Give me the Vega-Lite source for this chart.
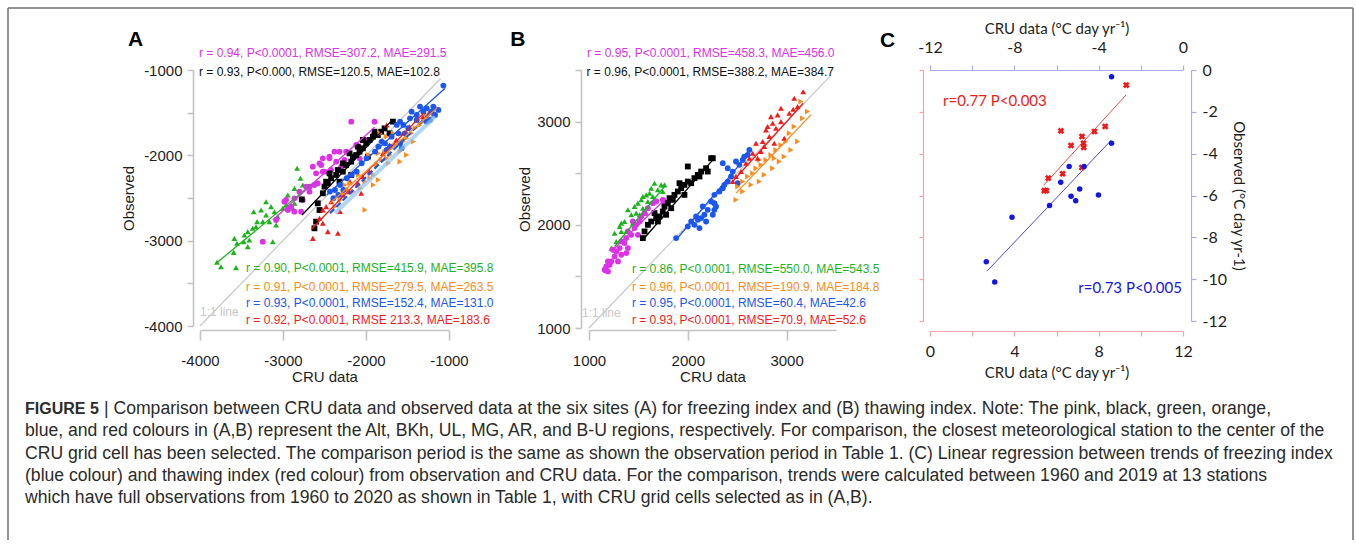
{
  "$schema": "https://vega.github.io/schema/vega-lite/v6.json",
  "padding": {"left": 7, "top": 7, "right": 0, "bottom": 0},
  "background": "white",
  "config": {
    "view": {"stroke": null},
    "font": "Liberation Sans",
    "axis": {"domainColor": "#c4c4c4", "tickColor": "#c4c4c4", "domainWidth": 1.6, "tickWidth": 1.6, "grid": false, "labelFontSize": 15, "labelColor": "#1e1e1e", "titleFontSize": 15, "titleFontWeight": "normal", "titleColor": "#1e1e1e", "labelFlush": false, "labelOverlap": false, "labelBound": false, "labelFont": "Liberation Sans", "titleFont": "Liberation Sans"}
  },
  "datasets": {
    "one": [{}],
    "fi": [
      {"g":"UL","cru":-3795,"obs":-3254},{"g":"UL","cru":-3747,"obs":-3305},{"g":"UL","cru":-3566,"obs":-3316},{"g":"UL","cru":-3594,"obs":-3137},{"g":"UL","cru":-3554,"obs":-3031},{"g":"UL","cru":-3586,"obs":-2973},{"g":"UL","cru":-3465,"obs":-2933},{"g":"UL","cru":-3425,"obs":-2894},{"g":"UL","cru":-3473,"obs":-3012},{"g":"UL","cru":-3405,"obs":-2992},{"g":"UL","cru":-3365,"obs":-2855},{"g":"UL","cru":-3325,"obs":-2836},{"g":"UL","cru":-3312,"obs":-2777},{"g":"UL","cru":-3353,"obs":-2660},{"g":"UL","cru":-3264,"obs":-2641},{"g":"UL","cru":-3244,"obs":-2777},{"g":"UL","cru":-3204,"obs":-2699},{"g":"UL","cru":-3164,"obs":-2777},{"g":"UL","cru":-3103,"obs":-2660},{"g":"UL","cru":-3144,"obs":-2601},{"g":"UL","cru":-3083,"obs":-2816},{"g":"UL","cru":-3063,"obs":-2719},{"g":"UL","cru":-3003,"obs":-2621},{"g":"UL","cru":-2963,"obs":-2582},{"g":"UL","cru":-2942,"obs":-2465},{"g":"UL","cru":-2862,"obs":-2387},{"g":"UL","cru":-2830,"obs":-2152},{"g":"UL","cru":-2790,"obs":-2269},{"g":"UL","cru":-2761,"obs":-2348},{"g":"UL","cru":-2862,"obs":-2562},{"g":"UL","cru":-2882,"obs":-2621},{"g":"UL","cru":-2983,"obs":-2523},{"g":"UL","cru":-3123,"obs":-3012},{"g":"UL","cru":-3425,"obs":-3070},{"g":"UL","cru":-3204,"obs":-2543},
      {"g":"Alt","cru":-3244,"obs":-3012},{"g":"Alt","cru":-3083,"obs":-2758},{"g":"Alt","cru":-2983,"obs":-2543},{"g":"Alt","cru":-2963,"obs":-2523},{"g":"Alt","cru":-2942,"obs":-2641},{"g":"Alt","cru":-2902,"obs":-2601},{"g":"Alt","cru":-2862,"obs":-2504},{"g":"Alt","cru":-2862,"obs":-2660},{"g":"Alt","cru":-2802,"obs":-2426},{"g":"Alt","cru":-2782,"obs":-2660},{"g":"Alt","cru":-2762,"obs":-2523},{"g":"Alt","cru":-2681,"obs":-2426},{"g":"Alt","cru":-2621,"obs":-2348},{"g":"Alt","cru":-2641,"obs":-2133},{"g":"Alt","cru":-2601,"obs":-2211},{"g":"Alt","cru":-2540,"obs":-2113},{"g":"Alt","cru":-2520,"obs":-2191},{"g":"Alt","cru":-2520,"obs":-2035},{"g":"Alt","cru":-2560,"obs":-2094},{"g":"Alt","cru":-2500,"obs":-2191},{"g":"Alt","cru":-2440,"obs":-2035},{"g":"Alt","cru":-2420,"obs":-2172},{"g":"Alt","cru":-2380,"obs":-1957},{"g":"Alt","cru":-2359,"obs":-2074},{"g":"Alt","cru":-2319,"obs":-1957},{"g":"Alt","cru":-2259,"obs":-2055},{"g":"Alt","cru":-2239,"obs":-1957},{"g":"Alt","cru":-2178,"obs":-1605},{"g":"Alt","cru":-2158,"obs":-2035},{"g":"Alt","cru":-2118,"obs":-1879},{"g":"Alt","cru":-2078,"obs":-2035},{"g":"Alt","cru":-2018,"obs":-1820},{"g":"Alt","cru":-1897,"obs":-1605},{"g":"Alt","cru":-2681,"obs":-2367},{"g":"Alt","cru":-2721,"obs":-2367},{"g":"Alt","cru":-2581,"obs":-2328},{"g":"Alt","cru":-2440,"obs":-2016},{"g":"Alt","cru":-2299,"obs":-2133},
      {"g":"BKh","cru":-2621,"obs":-2855},{"g":"BKh","cru":-2601,"obs":-2777},{"g":"BKh","cru":-2560,"obs":-2641},{"g":"BKh","cru":-2581,"obs":-2562},{"g":"BKh","cru":-2520,"obs":-2445},{"g":"BKh","cru":-2774,"obs":-2516},{"g":"BKh","cru":-2500,"obs":-2367},{"g":"BKh","cru":-2480,"obs":-2309},{"g":"BKh","cru":-2420,"obs":-2269},{"g":"BKh","cru":-2440,"obs":-2211},{"g":"BKh","cru":-2359,"obs":-2230},{"g":"BKh","cru":-2339,"obs":-2172},{"g":"BKh","cru":-2279,"obs":-2191},{"g":"BKh","cru":-2239,"obs":-2113},{"g":"BKh","cru":-2178,"obs":-2074},{"g":"BKh","cru":-2158,"obs":-2016},{"g":"BKh","cru":-2118,"obs":-1996},{"g":"BKh","cru":-2078,"obs":-1957},{"g":"BKh","cru":-2038,"obs":-1918},{"g":"BKh","cru":-1998,"obs":-1859},{"g":"BKh","cru":-1957,"obs":-1820},{"g":"BKh","cru":-1917,"obs":-1781},{"g":"BKh","cru":-1897,"obs":-1723},{"g":"BKh","cru":-1857,"obs":-1762},{"g":"BKh","cru":-1817,"obs":-1723},{"g":"BKh","cru":-1776,"obs":-1684},{"g":"BKh","cru":-1676,"obs":-1605},{"g":"BKh","cru":-1716,"obs":-1742},{"g":"BKh","cru":-2038,"obs":-1820},{"g":"BKh","cru":-2178,"obs":-2230},{"g":"BKh","cru":-2319,"obs":-2309},{"g":"BKh","cru":-2198,"obs":-1977},{"g":"BKh","cru":-2098,"obs":-1898},{"g":"BKh","cru":-1978,"obs":-2016},{"g":"BKh","cru":-2279,"obs":-2094},{"g":"BKh","cru":-2460,"obs":-2328},
      {"g":"B-U","cru":-2641,"obs":-2973},{"g":"B-U","cru":-2460,"obs":-2894},{"g":"B-U","cru":-2339,"obs":-2914},{"g":"B-U","cru":-2560,"obs":-2738},{"g":"B-U","cru":-2520,"obs":-2797},{"g":"B-U","cru":-2520,"obs":-2641},{"g":"B-U","cru":-2480,"obs":-2601},{"g":"B-U","cru":-2420,"obs":-2543},{"g":"B-U","cru":-2279,"obs":-2465},{"g":"B-U","cru":-2198,"obs":-2426},{"g":"B-U","cru":-2058,"obs":-2445},{"g":"B-U","cru":-2098,"obs":-2328},{"g":"B-U","cru":-2038,"obs":-2250},{"g":"B-U","cru":-1957,"obs":-2191},{"g":"B-U","cru":-1877,"obs":-2094},{"g":"B-U","cru":-1797,"obs":-1977},{"g":"B-U","cru":-1716,"obs":-1879},{"g":"B-U","cru":-1636,"obs":-1820},{"g":"B-U","cru":-1555,"obs":-1742},{"g":"B-U","cru":-1475,"obs":-1664},{"g":"B-U","cru":-1394,"obs":-1586},{"g":"B-U","cru":-1314,"obs":-1547},{"g":"B-U","cru":-1234,"obs":-1488},{"g":"B-U","cru":-2193,"obs":-2308},{"g":"B-U","cru":-2313,"obs":-2659},{"g":"B-U","cru":-1751,"obs":-1644},
      {"g":"MG","cru":-1168,"obs":-1429},{"g":"MG","cru":-1189,"obs":-1527},{"g":"MG","cru":-1229,"obs":-1566},{"g":"MG","cru":-1309,"obs":-1605},{"g":"MG","cru":-1349,"obs":-1644},{"g":"MG","cru":-1409,"obs":-1683},{"g":"MG","cru":-1450,"obs":-1742},{"g":"MG","cru":-1510,"obs":-1800},{"g":"MG","cru":-1550,"obs":-1839},{"g":"MG","cru":-1590,"obs":-1956},{"g":"MG","cru":-1650,"obs":-1878},{"g":"MG","cru":-1711,"obs":-1995},{"g":"MG","cru":-1751,"obs":-2035},{"g":"MG","cru":-1811,"obs":-2054},{"g":"MG","cru":-1871,"obs":-2113},{"g":"MG","cru":-1911,"obs":-2230},{"g":"MG","cru":-1952,"obs":-2269},{"g":"MG","cru":-1851,"obs":-2288},{"g":"MG","cru":-2012,"obs":-2308},{"g":"MG","cru":-2072,"obs":-2386},{"g":"MG","cru":-2152,"obs":-2425},{"g":"MG","cru":-2213,"obs":-2406},{"g":"MG","cru":-2273,"obs":-2445},{"g":"MG","cru":-2313,"obs":-2523},{"g":"MG","cru":-2373,"obs":-2601},{"g":"MG","cru":-2012,"obs":-2640},{"g":"MG","cru":-1851,"obs":-1976},{"g":"MG","cru":-1751,"obs":-1781},{"g":"MG","cru":-1671,"obs":-1742},{"g":"MG","cru":-1510,"obs":-1995},{"g":"MG","cru":-1831,"obs":-1742},{"g":"MG","cru":-1972,"obs":-1995},{"g":"MG","cru":-2092,"obs":-2230},{"g":"MG","cru":-2193,"obs":-2328},{"g":"MG","cru":-2253,"obs":-2347},{"g":"MG","cru":-1771,"obs":-1956},{"g":"MG","cru":-1731,"obs":-2093},{"g":"MG","cru":-1590,"obs":-2074},{"g":"MG","cru":-1430,"obs":-1839},{"g":"MG","cru":-1269,"obs":-1527},{"g":"MG","cru":-1911,"obs":-2347},
      {"g":"AR","cru":-1068,"obs":-1183},{"g":"AR","cru":-1189,"obs":-1429},{"g":"AR","cru":-1209,"obs":-1488},{"g":"AR","cru":-1269,"obs":-1449},{"g":"AR","cru":-1309,"obs":-1488},{"g":"AR","cru":-1349,"obs":-1429},{"g":"AR","cru":-1389,"obs":-1527},{"g":"AR","cru":-1168,"obs":-1527},{"g":"AR","cru":-1128,"obs":-1468},{"g":"AR","cru":-1229,"obs":-1585},{"g":"AR","cru":-1269,"obs":-1605},{"g":"AR","cru":-1389,"obs":-1585},{"g":"AR","cru":-1450,"obs":-1488},{"g":"AR","cru":-1470,"obs":-1566},{"g":"AR","cru":-1550,"obs":-1644},{"g":"AR","cru":-1530,"obs":-1742},{"g":"AR","cru":-1590,"obs":-1605},{"g":"AR","cru":-1630,"obs":-1644},{"g":"AR","cru":-1490,"obs":-1683},{"g":"AR","cru":-1610,"obs":-1742},{"g":"AR","cru":-1691,"obs":-1781},{"g":"AR","cru":-1771,"obs":-1859},{"g":"AR","cru":-1711,"obs":-1898},{"g":"AR","cru":-1590,"obs":-1859},{"g":"AR","cru":-1570,"obs":-1917},{"g":"AR","cru":-1751,"obs":-1937},{"g":"AR","cru":-1811,"obs":-1839},{"g":"AR","cru":-1851,"obs":-1898},{"g":"AR","cru":-1891,"obs":-1956},{"g":"AR","cru":-1992,"obs":-2035},{"g":"AR","cru":-2052,"obs":-2093},{"g":"AR","cru":-2112,"obs":-2191},{"g":"AR","cru":-2173,"obs":-2230},{"g":"AR","cru":-2233,"obs":-2269},{"g":"AR","cru":-2313,"obs":-2347},{"g":"AR","cru":-2373,"obs":-2406},{"g":"AR","cru":-2434,"obs":-2425},{"g":"AR","cru":-2393,"obs":-2503},{"g":"AR","cru":-2333,"obs":-2464},{"g":"AR","cru":-2273,"obs":-2406}
    ],
    "fiL": [
      {"g":"one","cru":-4000,"obs":-4000},{"g":"one","cru":-1100,"obs":-1100},
      {"g":"UL","cru":-3815,"obs":-3273},{"g":"UL","cru":-2641,"obs":-2328},
      {"g":"Alt","cru":-3123,"obs":-2758},{"g":"Alt","cru":-1897,"obs":-1672},
      {"g":"BKh","cru":-2770,"obs":-2699},{"g":"BKh","cru":-1676,"obs":-1578},
      {"g":"B-U","cru":-2661,"obs":-2870},{"g":"B-U","cru":-1300,"obs":-1500},
      {"g":"MG","cru":-2434,"obs":-2562},{"g":"MG","cru":-1148,"obs":-1449},
      {"g":"AR","cru":-2474,"obs":-2464},{"g":"AR","cru":-1048,"obs":-1214},
      {"g":"AR-light","cru":-2373,"obs":-2679},{"g":"AR-light","cru":-1168,"obs":-1546},
      {"g":"AR-dash","cru":-2434,"obs":-2679},{"g":"AR-dash","cru":-1128,"obs":-1410}
    ],
    "ti": [
      {"g":"UL","cru":1226,"obs":1774},{"g":"UL","cru":1276,"obs":1839},{"g":"UL","cru":1327,"obs":1936},{"g":"UL","cru":1310,"obs":1984},{"g":"UL","cru":1360,"obs":2032},{"g":"UL","cru":1428,"obs":2097},{"g":"UL","cru":1444,"obs":2016},{"g":"UL","cru":1461,"obs":2177},{"g":"UL","cru":1495,"obs":2210},{"g":"UL","cru":1529,"obs":2242},{"g":"UL","cru":1545,"obs":2274},{"g":"UL","cru":1579,"obs":2290},{"g":"UL","cru":1613,"obs":2307},{"g":"UL","cru":1630,"obs":2355},{"g":"UL","cru":1663,"obs":2403},{"g":"UL","cru":1697,"obs":2339},{"g":"UL","cru":1731,"obs":2387},{"g":"UL","cru":1764,"obs":2387},{"g":"UL","cru":1747,"obs":2323},{"g":"UL","cru":1377,"obs":1936},{"g":"UL","cru":1461,"obs":2032},{"g":"UL","cru":1545,"obs":2161},{"g":"UL","cru":1596,"obs":2226},{"g":"UL","cru":1512,"obs":2097},{"g":"UL","cru":1646,"obs":2274},{"g":"UL","cru":1394,"obs":2145},{"g":"UL","cru":1327,"obs":2016},{"g":"UL","cru":1259,"obs":1919},{"g":"UL","cru":1579,"obs":2113},{"g":"UL","cru":1478,"obs":2113},
      {"g":"Alt","cru":1158,"obs":1565},{"g":"Alt","cru":1175,"obs":1597},{"g":"Alt","cru":1192,"obs":1548},{"g":"Alt","cru":1209,"obs":1613},{"g":"Alt","cru":1226,"obs":1645},{"g":"Alt","cru":1192,"obs":1645},{"g":"Alt","cru":1259,"obs":1694},{"g":"Alt","cru":1276,"obs":1742},{"g":"Alt","cru":1242,"obs":1758},{"g":"Alt","cru":1310,"obs":1774},{"g":"Alt","cru":1327,"obs":1710},{"g":"Alt","cru":1360,"obs":1823},{"g":"Alt","cru":1327,"obs":1839},{"g":"Alt","cru":1377,"obs":1871},{"g":"Alt","cru":1394,"obs":1936},{"g":"Alt","cru":1428,"obs":1903},{"g":"Alt","cru":1461,"obs":1968},{"g":"Alt","cru":1478,"obs":2000},{"g":"Alt","cru":1444,"obs":2032},{"g":"Alt","cru":1512,"obs":2032},{"g":"Alt","cru":1529,"obs":2081},{"g":"Alt","cru":1562,"obs":2113},{"g":"Alt","cru":1596,"obs":2161},{"g":"Alt","cru":1646,"obs":2210},{"g":"Alt","cru":1680,"obs":2226},{"g":"Alt","cru":1747,"obs":2242},{"g":"Alt","cru":1764,"obs":2194},{"g":"Alt","cru":1495,"obs":1903},{"g":"Alt","cru":1394,"obs":1774},{"g":"Alt","cru":1293,"obs":1645},{"g":"Alt","cru":1168,"obs":1558},{"g":"Alt","cru":1377,"obs":1726},
      {"g":"BKh","cru":1545,"obs":1871},{"g":"BKh","cru":1562,"obs":1936},{"g":"BKh","cru":1596,"obs":2000},{"g":"BKh","cru":1630,"obs":2032},{"g":"BKh","cru":1680,"obs":2065},{"g":"BKh","cru":1663,"obs":2113},{"g":"BKh","cru":1714,"obs":2081},{"g":"BKh","cru":1747,"obs":2129},{"g":"BKh","cru":1764,"obs":2177},{"g":"BKh","cru":1798,"obs":2210},{"g":"BKh","cru":1815,"obs":2258},{"g":"BKh","cru":1848,"obs":2242},{"g":"BKh","cru":1865,"obs":2290},{"g":"BKh","cru":1899,"obs":2323},{"g":"BKh","cru":1933,"obs":2355},{"g":"BKh","cru":1966,"obs":2387},{"g":"BKh","cru":2000,"obs":2419},{"g":"BKh","cru":2034,"obs":2403},{"g":"BKh","cru":2067,"obs":2452},{"g":"BKh","cru":2101,"obs":2484},{"g":"BKh","cru":2135,"obs":2516},{"g":"BKh","cru":2185,"obs":2548},{"g":"BKh","cru":2236,"obs":2645},{"g":"BKh","cru":2000,"obs":2565},{"g":"BKh","cru":1916,"obs":2403},{"g":"BKh","cru":1781,"obs":2097},{"g":"BKh","cru":1697,"obs":2032},{"g":"BKh","cru":1832,"obs":2161},{"g":"BKh","cru":1966,"obs":2290},{"g":"BKh","cru":2118,"obs":2468},{"g":"BKh","cru":2202,"obs":2516},{"g":"BKh","cru":2253,"obs":2645},
      {"g":"AR","cru":1882,"obs":1871},{"g":"AR","cru":2000,"obs":1984},{"g":"AR","cru":2034,"obs":2032},{"g":"AR","cru":2067,"obs":2000},{"g":"AR","cru":2101,"obs":2048},{"g":"AR","cru":2135,"obs":2065},{"g":"AR","cru":2168,"obs":2097},{"g":"AR","cru":2202,"obs":2145},{"g":"AR","cru":2185,"obs":2032},{"g":"AR","cru":2118,"obs":1968},{"g":"AR","cru":2253,"obs":2097},{"g":"AR","cru":2269,"obs":2145},{"g":"AR","cru":2286,"obs":2177},{"g":"AR","cru":2236,"obs":2226},{"g":"AR","cru":2269,"obs":2290},{"g":"AR","cru":2320,"obs":2323},{"g":"AR","cru":2354,"obs":2355},{"g":"AR","cru":2370,"obs":2387},{"g":"AR","cru":2404,"obs":2419},{"g":"AR","cru":2354,"obs":2597},{"g":"AR","cru":2404,"obs":2548},{"g":"AR","cru":2455,"obs":2516},{"g":"AR","cru":2505,"obs":2403},{"g":"AR","cru":2438,"obs":2468},{"g":"AR","cru":2522,"obs":2581},{"g":"AR","cru":2556,"obs":2629},{"g":"AR","cru":2572,"obs":2661},{"g":"AR","cru":2606,"obs":2677},{"g":"AR","cru":2623,"obs":2726},{"g":"AR","cru":2488,"obs":2613},{"g":"AR","cru":2269,"obs":2210},{"g":"AR","cru":2151,"obs":2177},{"g":"AR","cru":2084,"obs":2081},
      {"g":"MG","cru":3145,"obs":3194},{"g":"MG","cru":3212,"obs":3097},{"g":"MG","cru":3162,"obs":3032},{"g":"MG","cru":3077,"obs":2952},{"g":"MG","cru":3027,"obs":2887},{"g":"MG","cru":2993,"obs":2807},{"g":"MG","cru":2943,"obs":2774},{"g":"MG","cru":2892,"obs":2726},{"g":"MG","cru":2842,"obs":2677},{"g":"MG","cru":2791,"obs":2629},{"g":"MG","cru":2741,"obs":2581},{"g":"MG","cru":2690,"obs":2548},{"g":"MG","cru":2657,"obs":2500},{"g":"MG","cru":2606,"obs":2468},{"g":"MG","cru":2556,"obs":2419},{"g":"MG","cru":2505,"obs":2371},{"g":"MG","cru":2488,"obs":2242},{"g":"MG","cru":2556,"obs":2323},{"g":"MG","cru":2640,"obs":2387},{"g":"MG","cru":2724,"obs":2419},{"g":"MG","cru":2774,"obs":2484},{"g":"MG","cru":2859,"obs":2548},{"g":"MG","cru":2926,"obs":2613},{"g":"MG","cru":2976,"obs":2661},{"g":"MG","cru":3044,"obs":2726},{"g":"MG","cru":3111,"obs":2807},{"g":"MG","cru":2724,"obs":2629},{"g":"MG","cru":2875,"obs":2645},
      {"g":"B-U","cru":3168,"obs":3290},{"g":"B-U","cru":3077,"obs":3226},{"g":"B-U","cru":2943,"obs":3129},{"g":"B-U","cru":2909,"obs":3065},{"g":"B-U","cru":2842,"obs":3048},{"g":"B-U","cru":2808,"obs":2952},{"g":"B-U","cru":2892,"obs":2936},{"g":"B-U","cru":2943,"obs":3000},{"g":"B-U","cru":3027,"obs":3081},{"g":"B-U","cru":3111,"obs":3145},{"g":"B-U","cru":2825,"obs":2855},{"g":"B-U","cru":2758,"obs":2807},{"g":"B-U","cru":2741,"obs":2710},{"g":"B-U","cru":2690,"obs":2790},{"g":"B-U","cru":2657,"obs":2694},{"g":"B-U","cru":2623,"obs":2645},{"g":"B-U","cru":2589,"obs":2597},{"g":"B-U","cru":2539,"obs":2516},{"g":"B-U","cru":2488,"obs":2468},{"g":"B-U","cru":2455,"obs":2419},{"g":"B-U","cru":2707,"obs":2645},{"g":"B-U","cru":2774,"obs":2758},{"g":"B-U","cru":2875,"obs":2790},{"g":"B-U","cru":2859,"obs":2984},{"g":"B-U","cru":2976,"obs":2839},{"g":"B-U","cru":2791,"obs":2919},{"g":"B-U","cru":3067,"obs":3119}
    ],
    "tiL": [
      {"g":"one","cru":1000,"obs":1000},{"g":"one","cru":3450,"obs":3450},
      {"g":"Alt","cru":1242,"obs":1758},{"g":"Alt","cru":1781,"obs":2258},
      {"g":"UL","cru":1259,"obs":1790},{"g":"UL","cru":1764,"obs":2371},
      {"g":"BKh","cru":1545,"obs":1855},{"g":"BKh","cru":2253,"obs":2629},
      {"g":"AR","cru":1882,"obs":1855},{"g":"AR","cru":2623,"obs":2694},
      {"g":"B-U","cru":2438,"obs":2403},{"g":"B-U","cru":3168,"obs":3178},
      {"g":"MG","cru":2488,"obs":2307},{"g":"MG","cru":3246,"obs":3065}
    ],
    "thaw": [
      {"cru":9.31,"obs":11.28},{"cru":8.31,"obs":9.30},{"cru":7.80,"obs":9.06},{"cru":7.21,"obs":8.82},{"cru":7.28,"obs":8.50},{"cru":7.29,"obs":8.30},{"cru":6.21,"obs":9.09},{"cru":6.69,"obs":8.39},{"cru":7.20,"obs":7.34},{"cru":6.29,"obs":7.04},{"cru":5.61,"obs":6.83},{"cru":5.42,"obs":6.23},{"cru":5.52,"obs":6.23}
    ],
    "freeze": [
      {"cru":-3.39,"obs":-0.32},{"cru":-3.39,"obs":-3.50},{"cru":-5.40,"obs":-4.61},{"cru":-4.69,"obs":-4.61},{"cru":-5.80,"obs":-5.37},{"cru":-4.90,"obs":-5.69},{"cru":-5.31,"obs":-6.04},{"cru":-5.09,"obs":-6.25},{"cru":-4.01,"obs":-5.98},{"cru":-6.33,"obs":-6.48},{"cru":-8.11,"obs":-7.04},{"cru":-9.33,"obs":-9.17},{"cru":-8.93,"obs":-10.14}
    ],
    "thawL": [{"cru":5.39,"obs":6.49},{"cru":9.30,"obs":10.81}],
    "freezeL": [{"cru":-9.30,"obs":-9.62},{"cru":-3.39,"obs":-3.34}],
    "cap": [
      {"line":1,"text":"| Comparison between CRU data and observed data at the six sites (A) for freezing index and (B) thawing index. Note: The pink, black, green, orange,"},
      {"line":2,"text":"blue, and red colours in (A,B) represent the Alt, BKh, UL, MG, AR, and B-U regions, respectively. For comparison, the closest meteorological station to the center of the"},
      {"line":3,"text":"CRU grid cell has been selected. The comparison period is the same as shown the observation period in Table 1. (C) Linear regression between trends of freezing index"},
      {"line":4,"text":"(blue colour) and thawing index (red colour) from observation and CRU data. For the comparison, trends were calculated between 1960 and 2019 at 13 stations"},
      {"line":5,"text":"which have full observations from 1960 to 2020 as shown in Table 1, with CRU grid cells selected as in (A,B)."}
    ]
  },
  "vconcat": [
    {
      "hconcat": [
        {
          "width": 249, "height": 256,
          "layer": [
            {"data": {"name": "fiL"}, "transform": [{"filter": "datum.g === 'one'"}], "mark": {"type": "line", "strokeWidth": 1.2},
             "encoding": {"x": {"field": "cru", "type": "quantitative", "scale": {"domain": [-4000, -1000]}}, "y": {"field": "obs", "type": "quantitative", "scale": {"domain": [-4000, -1000]}},
              "color": {"field": "g", "type": "nominal", "legend": null, "scale": {"domain": ["Alt","BKh","UL","MG","AR","B-U","one","AR-dash","AR-light"], "range": ["#dd30e8","#000000","#1cb41c","#ff8a1a","#1a56f0","#f51a1a","#c8c8c8","#1a56f0","#8cc4f2"]}}, "detail": {"field": "g"}}},
            {"data": {"name": "fi"}, "mark": {"type": "point", "filled": true, "size": 34, "opacity": 1},
             "encoding": {
              "x": {"field": "cru", "type": "quantitative", "scale": {"domain": [-4000, -1000]}, "axis": {"title": "CRU data", "values": [-4000, -3000, -2000, -1000], "labelExpr": "'-' + abs(datum.value)", "offset": 4, "tickSize": 10, "labelPadding": 13, "titlePadding": 1}},
              "y": {"field": "obs", "type": "quantitative", "scale": {"domain": [-4000, -1000]}, "axis": {"title": "Observed", "values": [-4000, -3500, -3000, -2500, -2000, -1500, -1000], "labelExpr": "datum.value % 1000 === 0 ? '-' + abs(datum.value) : ''", "offset": 7, "tickSize": 6, "labelPadding": 5, "titlePadding": 7}},
              "color": {"field": "g", "type": "nominal", "legend": null, "scale": {"domain": ["Alt","BKh","UL","MG","AR","B-U","one","AR-dash","AR-light"], "range": ["#dd30e8","#000000","#1cb41c","#ff8a1a","#1a56f0","#f51a1a","#c8c8c8","#1a56f0","#8cc4f2"]}},
              "shape": {"field": "g", "type": "nominal", "legend": null, "scale": {"domain": ["Alt","BKh","UL","MG","AR","B-U"], "range": ["circle","square","triangle-up","triangle-right","circle","triangle-up"]}}}},
            {"data": {"name": "fiL"}, "transform": [{"filter": "datum.g === 'AR-light'"}], "mark": {"type": "line", "strokeWidth": 4, "opacity": 0.7},
             "encoding": {"x": {"field": "cru", "type": "quantitative", "scale": {"domain": [-4000, -1000]}}, "y": {"field": "obs", "type": "quantitative", "scale": {"domain": [-4000, -1000]}},
              "color": {"field": "g", "type": "nominal", "legend": null, "scale": {"domain": ["Alt","BKh","UL","MG","AR","B-U","one","AR-dash","AR-light"], "range": ["#dd30e8","#000000","#1cb41c","#ff8a1a","#1a56f0","#f51a1a","#c8c8c8","#1a56f0","#8cc4f2"]}}}},
            {"data": {"name": "fiL"}, "transform": [{"filter": "datum.g === 'AR-dash'"}], "mark": {"type": "line", "strokeWidth": 2.2, "strokeDash": [6, 3]},
             "encoding": {"x": {"field": "cru", "type": "quantitative", "scale": {"domain": [-4000, -1000]}}, "y": {"field": "obs", "type": "quantitative", "scale": {"domain": [-4000, -1000]}},
              "color": {"field": "g", "type": "nominal", "legend": null, "scale": {"domain": ["Alt","BKh","UL","MG","AR","B-U","one","AR-dash","AR-light"], "range": ["#dd30e8","#000000","#1cb41c","#ff8a1a","#1a56f0","#f51a1a","#c8c8c8","#1a56f0","#8cc4f2"]}}}},
            {"data": {"name": "fiL"}, "transform": [{"filter": "indexof(['UL','Alt','BKh','B-U','MG','AR'], datum.g) >= 0"}], "mark": {"type": "line", "strokeWidth": 1.3},
             "encoding": {"x": {"field": "cru", "type": "quantitative", "scale": {"domain": [-4000, -1000]}}, "y": {"field": "obs", "type": "quantitative", "scale": {"domain": [-4000, -1000]}},
              "color": {"field": "g", "type": "nominal", "legend": null, "scale": {"domain": ["Alt","BKh","UL","MG","AR","B-U","one","AR-dash","AR-light"], "range": ["#dd30e8","#000000","#1cb41c","#ff8a1a","#1a56f0","#f51a1a","#c8c8c8","#1a56f0","#8cc4f2"]}}, "detail": {"field": "g"}}},
            {"data": {"name": "one"}, "mark": {"type": "text", "align": "left", "baseline": "middle", "fontSize": 21, "fontWeight": "bold", "color": "#000"},
             "encoding": {"x": {"datum": -4867, "type": "quantitative", "scale": {"domain": [-4000, -1000]}}, "y": {"datum": -654, "type": "quantitative", "scale": {"domain": [-4000, -1000]}}, "text": {"value": "A"}}},
            {"data": {"name": "one"}, "mark": {"type": "text", "align": "left", "baseline": "middle", "fontSize": 12, "color": "#dd30e8"},
             "encoding": {"x": {"datum": -4012, "type": "quantitative", "scale": {"domain": [-4000, -1000]}}, "y": {"datum": -800, "type": "quantitative", "scale": {"domain": [-4000, -1000]}}, "text": {"value": "r = 0.94, P<0.0001, RMSE=307.2, MAE=291.5"}}},
            {"data": {"name": "one"}, "mark": {"type": "text", "align": "left", "baseline": "middle", "fontSize": 12, "color": "#111111"},
             "encoding": {"x": {"datum": -4012, "type": "quantitative", "scale": {"domain": [-4000, -1000]}}, "y": {"datum": -1023, "type": "quantitative", "scale": {"domain": [-4000, -1000]}}, "text": {"value": "r = 0.93, P<0.000, RMSE=120.5, MAE=102.8"}}},
            {"data": {"name": "one"}, "mark": {"type": "text", "align": "left", "baseline": "middle", "fontSize": 12, "color": "#1cb41c"},
             "encoding": {"x": {"datum": -3446, "type": "quantitative", "scale": {"domain": [-4000, -1000]}}, "y": {"datum": -3320, "type": "quantitative", "scale": {"domain": [-4000, -1000]}}, "text": {"value": "r = 0.90, P<0.0001, RMSE=415.9, MAE=395.8"}}},
            {"data": {"name": "one"}, "mark": {"type": "text", "align": "left", "baseline": "middle", "fontSize": 12, "color": "#ff8a1a"},
             "encoding": {"x": {"datum": -3446, "type": "quantitative", "scale": {"domain": [-4000, -1000]}}, "y": {"datum": -3543, "type": "quantitative", "scale": {"domain": [-4000, -1000]}}, "text": {"value": "r = 0.91, P<0.0001, RMSE=279.5, MAE=263.5"}}},
            {"data": {"name": "one"}, "mark": {"type": "text", "align": "left", "baseline": "middle", "fontSize": 12, "color": "#1a56f0"},
             "encoding": {"x": {"datum": -3446, "type": "quantitative", "scale": {"domain": [-4000, -1000]}}, "y": {"datum": -3730, "type": "quantitative", "scale": {"domain": [-4000, -1000]}}, "text": {"value": "r = 0.93, P<0.0001, RMSE=152.4, MAE=131.0"}}},
            {"data": {"name": "one"}, "mark": {"type": "text", "align": "left", "baseline": "middle", "fontSize": 12, "color": "#f51a1a"},
             "encoding": {"x": {"datum": -3446, "type": "quantitative", "scale": {"domain": [-4000, -1000]}}, "y": {"datum": -3930, "type": "quantitative", "scale": {"domain": [-4000, -1000]}}, "text": {"value": "r = 0.92, P<0.0001, RMSE 213.3, MAE=183.6"}}},
            {"data": {"name": "one"}, "mark": {"type": "text", "align": "left", "baseline": "middle", "fontSize": 12, "color": "#c8c8c8"},
             "encoding": {"x": {"datum": -4000, "type": "quantitative", "scale": {"domain": [-4000, -1000]}}, "y": {"datum": -3836, "type": "quantitative", "scale": {"domain": [-4000, -1000]}}, "text": {"value": "1:1 line"}}}
          ]
        },
        {"width": 140, "height": 1, "data": {"values": []}, "mark": "point", "encoding": {}},
        {
          "width": 247, "height": 258,
          "layer": [
            {"data": {"name": "tiL"}, "transform": [{"filter": "datum.g === 'one'"}], "mark": {"type": "line", "strokeWidth": 1.2},
             "encoding": {"x": {"field": "cru", "type": "quantitative", "scale": {"domain": [1000, 3500]}}, "y": {"field": "obs", "type": "quantitative", "scale": {"domain": [1000, 3500]}},
              "color": {"field": "g", "type": "nominal", "legend": null, "scale": {"domain": ["Alt","BKh","UL","MG","AR","B-U","one","AR-dash","AR-light"], "range": ["#dd30e8","#000000","#1cb41c","#ff8a1a","#1a56f0","#f51a1a","#c8c8c8","#1a56f0","#8cc4f2"]}}, "detail": {"field": "g"}}},
            {"data": {"name": "ti"}, "mark": {"type": "point", "filled": true, "size": 34, "opacity": 1},
             "encoding": {
              "x": {"field": "cru", "type": "quantitative", "scale": {"domain": [1000, 3500]}, "axis": {"title": "CRU data", "values": [1000, 2000, 3000], "labelExpr": "'' + datum.value", "offset": 2, "tickSize": 10, "labelPadding": 13, "titlePadding": 1}},
              "y": {"field": "obs", "type": "quantitative", "scale": {"domain": [1000, 3500]}, "axis": {"title": "Observed", "values": [1000, 1500, 2000, 2500, 3000, 3500], "labelExpr": "datum.value % 1000 === 0 ? '' + datum.value : ''", "offset": 8, "tickSize": 6, "labelPadding": 5, "titlePadding": 4}},
              "color": {"field": "g", "type": "nominal", "legend": null, "scale": {"domain": ["Alt","BKh","UL","MG","AR","B-U","one","AR-dash","AR-light"], "range": ["#dd30e8","#000000","#1cb41c","#ff8a1a","#1a56f0","#f51a1a","#c8c8c8","#1a56f0","#8cc4f2"]}},
              "shape": {"field": "g", "type": "nominal", "legend": null, "scale": {"domain": ["Alt","BKh","UL","MG","AR","B-U"], "range": ["circle","square","triangle-up","triangle-right","circle","triangle-up"]}}}},
            {"data": {"name": "tiL"}, "transform": [{"filter": "datum.g !== 'one'"}], "mark": {"type": "line", "strokeWidth": 1.3},
             "encoding": {"x": {"field": "cru", "type": "quantitative", "scale": {"domain": [1000, 3500]}}, "y": {"field": "obs", "type": "quantitative", "scale": {"domain": [1000, 3500]}},
              "color": {"field": "g", "type": "nominal", "legend": null, "scale": {"domain": ["Alt","BKh","UL","MG","AR","B-U","one","AR-dash","AR-light"], "range": ["#dd30e8","#000000","#1cb41c","#ff8a1a","#1a56f0","#f51a1a","#c8c8c8","#1a56f0","#8cc4f2"]}}, "detail": {"field": "g"}}},
            {"data": {"name": "one"}, "mark": {"type": "text", "align": "left", "baseline": "middle", "fontSize": 21, "fontWeight": "bold", "color": "#000"},
             "encoding": {"x": {"datum": 202, "type": "quantitative", "scale": {"domain": [1000, 3500]}}, "y": {"datum": 3786, "type": "quantitative", "scale": {"domain": [1000, 3500]}}, "text": {"value": "B"}}},
            {"data": {"name": "one"}, "mark": {"type": "text", "align": "left", "baseline": "middle", "fontSize": 12, "color": "#dd30e8"},
             "encoding": {"x": {"datum": 980, "type": "quantitative", "scale": {"domain": [1000, 3500]}}, "y": {"datum": 3665, "type": "quantitative", "scale": {"domain": [1000, 3500]}}, "text": {"value": "r = 0.95, P<0.0001, RMSE=458.3, MAE=456.0"}}},
            {"data": {"name": "one"}, "mark": {"type": "text", "align": "left", "baseline": "middle", "fontSize": 12, "color": "#111111"},
             "encoding": {"x": {"datum": 975, "type": "quantitative", "scale": {"domain": [1000, 3500]}}, "y": {"datum": 3481, "type": "quantitative", "scale": {"domain": [1000, 3500]}}, "text": {"value": "r = 0.96, P<0.0001, RMSE=388.2, MAE=384.7"}}},
            {"data": {"name": "one"}, "mark": {"type": "text", "align": "left", "baseline": "middle", "fontSize": 12, "color": "#1cb41c"},
             "encoding": {"x": {"datum": 1434, "type": "quantitative", "scale": {"domain": [1000, 3500]}}, "y": {"datum": 1572, "type": "quantitative", "scale": {"domain": [1000, 3500]}}, "text": {"value": "r = 0.86, P<0.0001, RMSE=550.0, MAE=543.5"}}},
            {"data": {"name": "one"}, "mark": {"type": "text", "align": "left", "baseline": "middle", "fontSize": 12, "color": "#ff8a1a"},
             "encoding": {"x": {"datum": 1434, "type": "quantitative", "scale": {"domain": [1000, 3500]}}, "y": {"datum": 1397, "type": "quantitative", "scale": {"domain": [1000, 3500]}}, "text": {"value": "r = 0.96, P<0.0001, RMSE=190.9, MAE=184.8"}}},
            {"data": {"name": "one"}, "mark": {"type": "text", "align": "left", "baseline": "middle", "fontSize": 12, "color": "#1a56f0"},
             "encoding": {"x": {"datum": 1434, "type": "quantitative", "scale": {"domain": [1000, 3500]}}, "y": {"datum": 1242, "type": "quantitative", "scale": {"domain": [1000, 3500]}}, "text": {"value": "r = 0.95, P<0.0001,  RMSE=60.4, MAE=42.6"}}},
            {"data": {"name": "one"}, "mark": {"type": "text", "align": "left", "baseline": "middle", "fontSize": 12, "color": "#f51a1a"},
             "encoding": {"x": {"datum": 1434, "type": "quantitative", "scale": {"domain": [1000, 3500]}}, "y": {"datum": 1078, "type": "quantitative", "scale": {"domain": [1000, 3500]}}, "text": {"value": "r = 0.93, P<0.0001, RMSE=70.9, MAE=52.6"}}},
            {"data": {"name": "one"}, "mark": {"type": "text", "align": "left", "baseline": "middle", "fontSize": 12, "color": "#c8c8c8"},
             "encoding": {"x": {"datum": 929, "type": "quantitative", "scale": {"domain": [1000, 3500]}}, "y": {"datum": 1145, "type": "quantitative", "scale": {"domain": [1000, 3500]}}, "text": {"value": "1:1 line"}}}
          ]
        },
        {"width": 94, "height": 1, "data": {"values": []}, "mark": "point", "encoding": {}},
        {
          "width": 253, "height": 251,
          "layer": [
            {
              "layer": [
                {"data": {"name": "thawL"}, "mark": {"type": "line", "strokeWidth": 1, "color": "#f04848"},
                 "encoding": {
                  "x": {"field": "cru", "type": "quantitative", "scale": {"domain": [0, 12]}, "axis": {"orient": "bottom", "title": "CRU data (°C day yr⁻¹)", "values": [0, 2, 4, 6, 8, 10, 12], "labelExpr": "datum.value % 4 === 0 ? '' + datum.value : ''", "offset": 10, "tickSize": 5, "labelPadding": 7, "titlePadding": 6, "domainColor": "#f4a4a4", "tickColor": "#f4a4a4", "domainWidth": 1.2, "tickWidth": 1.2, "labelFont": "Lato", "titleFont": "Lato", "labelFontSize": 16, "titleFontSize": 15}},
                  "y": {"field": "obs", "type": "quantitative", "scale": {"domain": [0, 12]}, "axis": {"orient": "left", "title": null, "labels": false, "values": [0, 2, 4, 6, 8, 10, 12], "offset": 7, "tickSize": 4, "domainColor": "#f4a4a4", "tickColor": "#f4a4a4", "domainWidth": 1.2, "tickWidth": 1.2}}}},
                {"data": {"name": "thaw"}, "mark": {"type": "point", "shape": "cross", "angle": 45, "filled": true, "size": 45, "color": "#f01a1a", "opacity": 1},
                 "encoding": {"x": {"field": "cru", "type": "quantitative", "scale": {"domain": [0, 12]}}, "y": {"field": "obs", "type": "quantitative", "scale": {"domain": [0, 12]}}}},
                {"data": {"name": "one"}, "mark": {"type": "text", "align": "left", "baseline": "middle", "font": "Lato", "fontSize": 15, "color": "#f01a1a"},
                 "encoding": {"x": {"datum": 0.62, "type": "quantitative", "scale": {"domain": [0, 12]}}, "y": {"datum": 10.52, "type": "quantitative", "scale": {"domain": [0, 12]}}, "text": {"value": "r=0.77 P<0.003"}}},
                {"data": {"name": "one"}, "mark": {"type": "text", "align": "left", "baseline": "middle", "font": "Liberation Sans", "fontSize": 21, "fontWeight": "bold", "color": "#000"},
                 "encoding": {"x": {"datum": -2.37, "type": "quantitative", "scale": {"domain": [0, 12]}}, "y": {"datum": 13.41, "type": "quantitative", "scale": {"domain": [0, 12]}}, "text": {"value": "C"}}}
              ]
            },
            {
              "layer": [
                {"data": {"name": "freezeL"}, "mark": {"type": "line", "strokeWidth": 1, "color": "#4848e8"},
                 "encoding": {
                  "x": {"field": "cru", "type": "quantitative", "scale": {"domain": [-12, 0]}, "axis": {"orient": "top", "title": "CRU data (°C day yr⁻¹)", "values": [-12, -10, -8, -6, -4, -2, 0], "labelExpr": "datum.value % 4 === 0 ? (datum.value < 0 ? '-' : '') + abs(datum.value) : ''", "offset": 0, "tickSize": 5, "labelPadding": 10, "titlePadding": 3, "domainColor": "#a9aee8", "tickColor": "#a9aee8", "domainWidth": 1.2, "tickWidth": 1.2, "labelFont": "Lato", "titleFont": "Lato", "labelFontSize": 16, "titleFontSize": 15}},
                  "y": {"field": "obs", "type": "quantitative", "scale": {"domain": [-12, 0]}, "axis": {"orient": "right", "title": "Observed (°C day yr-1)", "values": [-12, -11, -10, -9, -8, -7, -6, -5, -4, -3, -2, -1, 0], "labelExpr": "datum.value % 2 === 0 ? (datum.value < 0 ? '-' : '') + abs(datum.value) : ''", "offset": 8, "tickSize": 5, "labelPadding": 6, "titlePadding": 4, "domainColor": "#a9aee8", "tickColor": "#a9aee8", "domainWidth": 1.2, "tickWidth": 1.2, "labelFont": "Lato", "titleFont": "Lato", "labelFontSize": 16, "titleFontSize": 15}}}},
                {"data": {"name": "freeze"}, "mark": {"type": "point", "shape": "circle", "filled": true, "size": 30, "color": "#1414e6", "opacity": 1},
                 "encoding": {"x": {"field": "cru", "type": "quantitative", "scale": {"domain": [-12, 0]}}, "y": {"field": "obs", "type": "quantitative", "scale": {"domain": [-12, 0]}}}},
                {"data": {"name": "one"}, "mark": {"type": "text", "align": "right", "baseline": "middle", "font": "Lato", "fontSize": 15, "color": "#1414e6"},
                 "encoding": {"x": {"datum": -0.05, "type": "quantitative", "scale": {"domain": [-12, 0]}}, "y": {"datum": -10.42, "type": "quantitative", "scale": {"domain": [-12, 0]}}, "text": {"value": "r=0.73 P<0.005"}}}
              ]
            }
          ],
          "resolve": {"scale": {"x": "independent", "y": "independent"}}
        }
      ],
      "spacing": 0,
      "bounds": "flush"
    },
    {
      "width": 1000, "height": 89,
      "layer": [
        {"data": {"name": "one"}, "mark": {"type": "rule", "stroke": "#6e6e6e", "strokeWidth": 1.5},
         "encoding": {"x": {"datum": -192, "type": "quantitative", "scale": {"domain": [0, 1000]}, "axis": null}, "y": {"datum": -17.02, "type": "quantitative", "scale": {"domain": [1, 5], "reverse": true}, "axis": null}, "y2": {"datum": 6.89}}},
        {"data": {"name": "one"}, "mark": {"type": "rule", "stroke": "#6e6e6e", "strokeWidth": 1.5},
         "encoding": {"x": {"datum": 1153, "type": "quantitative", "scale": {"domain": [0, 1000]}, "axis": null}, "y": {"datum": -17.02, "type": "quantitative", "scale": {"domain": [1, 5], "reverse": true}, "axis": null}, "y2": {"datum": 6.89}}},
        {"data": {"name": "one"}, "mark": {"type": "rule", "stroke": "#6e6e6e", "strokeWidth": 1.5},
         "encoding": {"x": {"datum": -192, "type": "quantitative", "scale": {"domain": [0, 1000]}, "axis": null}, "x2": {"datum": 1153}, "y": {"datum": -17.02, "type": "quantitative", "scale": {"domain": [1, 5], "reverse": true}, "axis": null}}},
        {"data": {"name": "one"}, "mark": {"type": "text", "align": "left", "baseline": "middle", "fontSize": 16, "fontWeight": "bold", "color": "#2b2b2b"},
         "encoding": {"x": {"datum": -175, "type": "quantitative", "scale": {"domain": [0, 1000]}, "axis": null}, "y": {"datum": 1, "type": "quantitative", "scale": {"domain": [1, 5], "reverse": true}, "axis": null}, "text": {"value": "FIGURE 5"}}},
        {"data": {"name": "cap"}, "transform": [{"filter": "datum.line === 1"}], "mark": {"type": "text", "align": "left", "baseline": "middle", "fontSize": 17.6, "color": "#2b2b2b"},
         "encoding": {"x": {"datum": -96, "type": "quantitative", "scale": {"domain": [0, 1000]}, "axis": null}, "y": {"field": "line", "type": "quantitative", "scale": {"domain": [1, 5], "reverse": true}, "axis": null}, "text": {"field": "text"}}},
        {"data": {"name": "cap"}, "transform": [{"filter": "datum.line > 1"}], "mark": {"type": "text", "align": "left", "baseline": "middle", "fontSize": 17.6, "color": "#2b2b2b"},
         "encoding": {"x": {"datum": -175, "type": "quantitative", "scale": {"domain": [0, 1000]}, "axis": null}, "y": {"field": "line", "type": "quantitative", "scale": {"domain": [1, 5], "reverse": true}, "axis": null}, "text": {"field": "text"}}}
      ]
    }
  ],
  "spacing": 339,
  "bounds": "flush"
}
